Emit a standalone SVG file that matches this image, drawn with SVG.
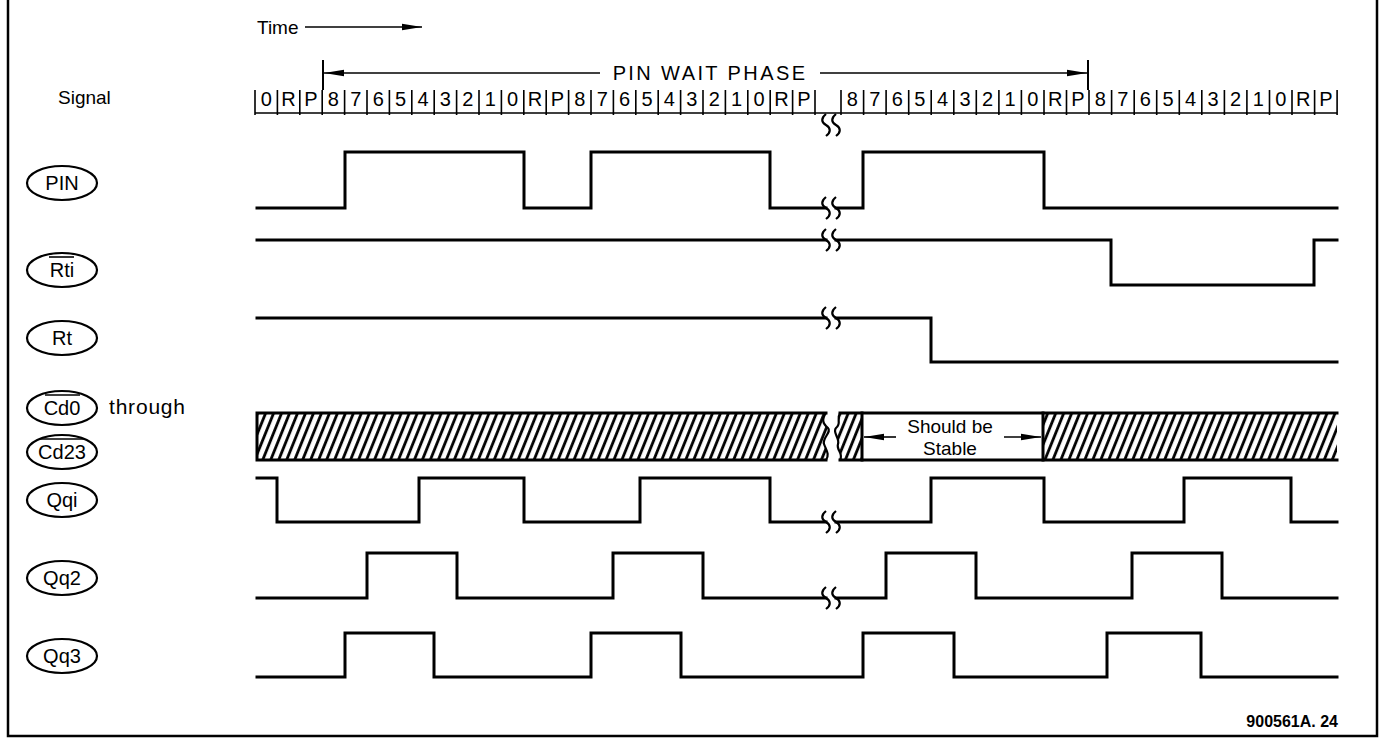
<svg xmlns="http://www.w3.org/2000/svg" width="1386" height="745" viewBox="0 0 1386 745">
<defs>
<style>
.t{font-family:"Liberation Sans","DejaVu Sans",sans-serif;fill:#000}
.lbl{font-size:20px;text-anchor:middle}
.tick{font-size:20px;text-anchor:middle}
.sig{fill:none;stroke:#000;stroke-width:3;stroke-linejoin:miter;stroke-linecap:square}
.thin{fill:none;stroke:#000;stroke-width:1.6}
.ell{fill:#fff;stroke:#000;stroke-width:2.2}
.brk{fill:none;stroke:#000;stroke-width:2.2}
</style>
<marker id="ah" viewBox="0 0 20 8" refX="20" refY="4" markerWidth="20" markerHeight="8" markerUnits="userSpaceOnUse" orient="auto">
<path d="M0,0.8 L20,4 L0,7.2 Z" fill="#000"/>
</marker>
<pattern id="hatch" patternUnits="userSpaceOnUse" width="7.4" height="20" patternTransform="rotate(22)">
<line x1="1.5" y1="0" x2="1.5" y2="20" stroke="#000" stroke-width="2.8"/>
</pattern>
<symbol id="sq" viewBox="-8 -12 26 24" width="26" height="24" overflow="visible">
<path d="M0,-11 C-5,-7 -5,-3 0,0 C5,3 5,7 0,11 M10,-11 C5,-7 5,-3 10,0 C15,3 15,7 10,11" fill="none" stroke="#000" stroke-width="2.2"/>
</symbol>
</defs>
<rect width="1386" height="745" fill="#fff"/>

<g id="frame">
<path d="M8,0 V736 H1377 V0" fill="none" stroke="#000" stroke-width="2.5"/>
</g>

<g id="time">
<text class="t" x="257" y="34" font-size="19">Time</text>
<line x1="305" y1="27" x2="422" y2="27" stroke="#000" stroke-width="1.6" marker-end="url(#ah)"/>
</g>

<g id="phase">
<line x1="323" y1="60" x2="323" y2="90" stroke="#000" stroke-width="2"/>
<line x1="1088" y1="60" x2="1088" y2="90" stroke="#000" stroke-width="2"/>
<line x1="600" y1="73" x2="324" y2="73" stroke="#000" stroke-width="1.6" marker-end="url(#ah)"/>
<line x1="820" y1="73" x2="1087" y2="73" stroke="#000" stroke-width="1.6" marker-end="url(#ah)"/>
<text class="t" x="710" y="80" font-size="20" letter-spacing="2.4" text-anchor="middle">PIN WAIT PHASE</text>
</g>

<g id="signal-row">
<text class="t" x="58" y="104" font-size="19">Signal</text>
<path class="thin" d="M255,113 H1337 M255,90 V115 M277.4,90 V115 M299.8,90 V115 M322.2,90 V115 M344.6,90 V115 M367,90 V115 M389.4,90 V115 M411.8,90 V115 M434.2,90 V115 M456.6,90 V115 M479,90 V115 M501.4,90 V115 M523.8,90 V115 M546.2,90 V115 M568.6,90 V115 M591,90 V115 M613.4,90 V115 M635.8,90 V115 M658.2,90 V115 M680.6,90 V115 M703,90 V115 M725.4,90 V115 M747.8,90 V115 M770.2,90 V115 M792.6,90 V115 M815,90 V115 M841,90 V115 M863.6,90 V115 M886.1,90 V115 M908.7,90 V115 M931.2,90 V115 M953.8,90 V115 M976.3,90 V115 M998.9,90 V115 M1021.4,90 V115 M1044,90 V115 M1066.5,90 V115 M1089,90 V115 M1111.6,90 V115 M1134.2,90 V115 M1156.7,90 V115 M1179.3,90 V115 M1201.8,90 V115 M1224.4,90 V115 M1246.9,90 V115 M1269.5,90 V115 M1292,90 V115 M1314.6,90 V115 M1337.1,90 V115"/>
<g class="t tick">
<text x="266.2" y="106">0</text><text x="288.6" y="106">R</text><text x="311" y="106">P</text><text x="333.4" y="106">8</text><text x="355.8" y="106">7</text><text x="378.2" y="106">6</text><text x="400.6" y="106">5</text><text x="423" y="106">4</text><text x="445.4" y="106">3</text><text x="467.8" y="106">2</text><text x="490.2" y="106">1</text><text x="512.6" y="106">0</text><text x="535" y="106">R</text><text x="557.4" y="106">P</text><text x="579.8" y="106">8</text><text x="602.2" y="106">7</text><text x="624.6" y="106">6</text><text x="647" y="106">5</text><text x="669.4" y="106">4</text><text x="691.8" y="106">3</text><text x="714.2" y="106">2</text><text x="736.6" y="106">1</text><text x="759" y="106">0</text><text x="781.4" y="106">R</text><text x="803.8" y="106">P</text>
<text x="852.3" y="106">8</text><text x="874.8" y="106">7</text><text x="897.4" y="106">6</text><text x="919.9" y="106">5</text><text x="942.5" y="106">4</text><text x="965" y="106">3</text><text x="987.6" y="106">2</text><text x="1010.1" y="106">1</text><text x="1032.7" y="106">0</text><text x="1055.2" y="106">R</text><text x="1077.8" y="106">P</text><text x="1100.3" y="106">8</text><text x="1122.9" y="106">7</text><text x="1145.4" y="106">6</text><text x="1168" y="106">5</text><text x="1190.5" y="106">4</text><text x="1213.1" y="106">3</text><text x="1235.6" y="106">2</text><text x="1258.2" y="106">1</text><text x="1280.7" y="106">0</text><text x="1303.3" y="106">R</text><text x="1325.8" y="106">P</text>
</g>
<use href="#sq" x="818" y="113"/>
</g>

<g id="label-PIN"><ellipse class="ell" cx="62" cy="183" rx="35" ry="17"/><text class="t lbl" x="62" y="190">PIN</text></g>
<g id="label-Rti"><ellipse class="ell" cx="62" cy="270" rx="35" ry="17"/><text class="t lbl" x="62" y="277">Rti</text><line x1="49" y1="257" x2="74" y2="257" stroke="#000" stroke-width="1.6"/></g>
<g id="label-Rt"><ellipse class="ell" cx="62" cy="338" rx="35" ry="17"/><text class="t lbl" x="62" y="345">Rt</text></g>
<g id="label-Cd0"><ellipse class="ell" cx="62" cy="408" rx="35" ry="17"/><text class="t lbl" x="62" y="415">Cd0</text><line x1="45" y1="395" x2="80" y2="395" stroke="#000" stroke-width="1.6"/><text class="t" x="109" y="414" font-size="21" letter-spacing="0.8">through</text></g>
<g id="label-Cd23"><ellipse class="ell" cx="62" cy="452" rx="35" ry="17"/><text class="t lbl" x="62" y="459">Cd23</text><line x1="40" y1="439" x2="84" y2="439" stroke="#000" stroke-width="1.6"/></g>
<g id="label-Qqi"><ellipse class="ell" cx="62" cy="500" rx="35" ry="17"/><text class="t lbl" x="62" y="507">Qqi</text></g>
<g id="label-Qq2"><ellipse class="ell" cx="62" cy="578" rx="35" ry="17"/><text class="t lbl" x="62" y="585">Qq2</text></g>
<g id="label-Qq3"><ellipse class="ell" cx="62" cy="656" rx="35" ry="17"/><text class="t lbl" x="62" y="663">Qq3</text></g>

<g id="connectors">
<g id="wave-PIN"><path class="sig" d="M257,208 H345 V152 H524 V208 H591 V152 H770 V208 H826 M836,208 H863 V152 H1044 V208 H1337"/><use href="#sq" x="818" y="196"/></g>
<g id="wave-Rti"><path class="sig" d="M257,240 H826 M836,240 H1111 V285 H1314 V240 H1337"/><use href="#sq" x="818" y="228"/></g>
<g id="wave-Rt"><path class="sig" d="M257,318 H826 M836,318 H931 V362 H1337"/><use href="#sq" x="818" y="306"/></g>
<g id="wave-Cd">
<path d="M257,413 H826 C822,419 822,423 828,428 C832,432 822,438 824,444 C826,450 830,454 826,460 H257 Z" fill="url(#hatch)"/>
<path d="M840,413 H862 V460 H840 C844,454 836,450 838,444 C840,438 832,432 836,428 C842,423 836,419 840,413 Z" fill="url(#hatch)"/>
<rect x="1043" y="413" width="294" height="47" fill="url(#hatch)"/>
<path class="sig" d="M257,460 V413 H826 M840,413 H1337 M257,460 H826 M840,460 H1337"/>
<path class="brk" d="M826,413 C822,419 822,423 828,428 C832,432 822,438 824,444 C826,450 830,454 826,460 M840,413 C836,419 842,423 836,428 C832,432 840,438 838,444 C836,450 844,454 840,460"/>
<path class="sig" d="M862,413 V460 M1043,413 V460"/>
<line x1="896" y1="437" x2="864" y2="437" stroke="#000" stroke-width="1.6" marker-end="url(#ah)"/>
<line x1="1004" y1="437" x2="1041" y2="437" stroke="#000" stroke-width="1.6" marker-end="url(#ah)"/>
<text class="t" x="950" y="433" font-size="19" text-anchor="middle">Should be</text>
<text class="t" x="950" y="455" font-size="19" text-anchor="middle">Stable</text>
</g>
<g id="wave-Qqi"><path class="sig" d="M257,478 H277 V522 H419 V478 H524 V522 H640 V478 H770 V522 H826 M836,522 H931 V478 H1044 V522 H1184 V478 H1291 V522 H1337"/><use href="#sq" x="818" y="510"/></g>
<g id="wave-Qq2"><path class="sig" d="M257,598 H367 V553 H457 V598 H613 V553 H703 V598 H826 M836,598 H886 V553 H976 V598 H1132 V553 H1222 V598 H1337"/><use href="#sq" x="818" y="586"/></g>
<g id="wave-Qq3"><path class="sig" d="M257,677 H345 V633 H434 V677 H591 V633 H681 V677 H863 V633 H954 V677 H1107 V633 H1201 V677 H1337"/></g>
</g>

<text class="t" x="1338" y="727" font-size="16" font-weight="bold" text-anchor="end">900561A. 24</text>
</svg>
